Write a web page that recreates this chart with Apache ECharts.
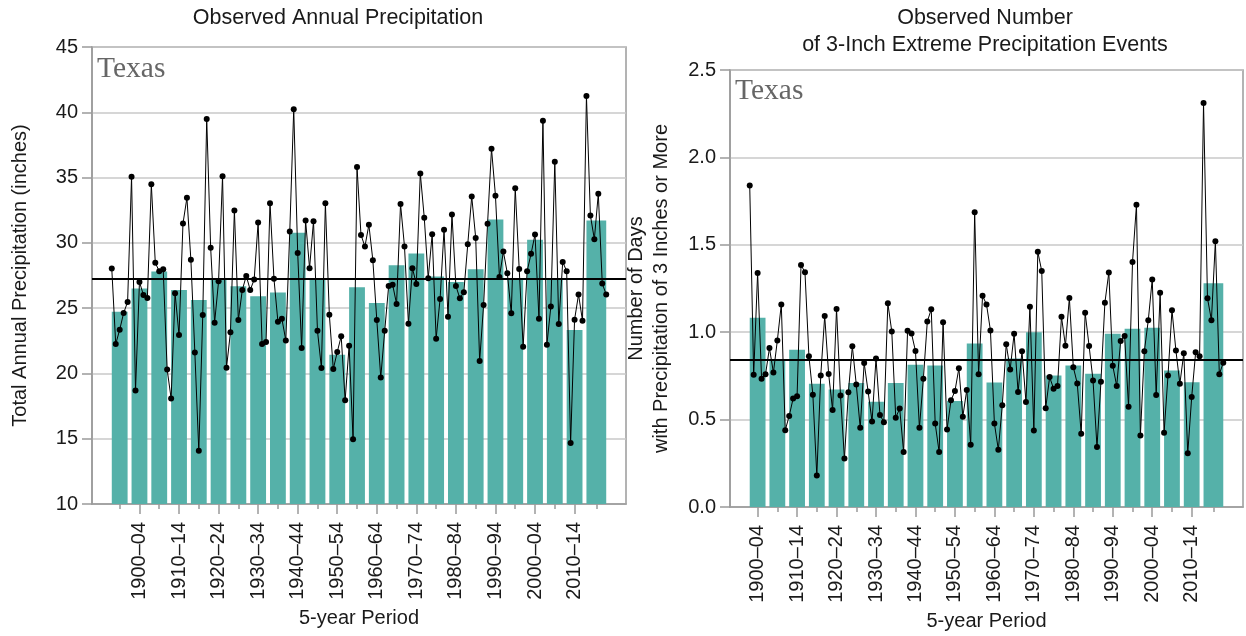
<!DOCTYPE html>
<html>
<head>
<meta charset="utf-8">
<script src="https://cdn.jsdelivr.net/npm/echarts@6/dist/echarts.min.js"></script>
<style>html,body{margin:0;padding:0;background:#fff}#c{width:1246px;height:636px}</style>
</head>
<body>
<div id="c"></div>
<script>
// ---------- DATA ----------
// Left: annual precipitation (inches), Texas, 1895-2020
const precipFirstYear = 1895;
const precipAnnual = [
  28.03, 22.25, 23.35, 24.63, 25.47,
  35.06, 18.70, 27.01, 26.01, 25.78,
  34.48, 28.47, 27.83, 27.97, 20.31,
  18.08, 26.14, 22.94, 31.48, 33.45,
  28.70, 21.61, 14.07, 24.48, 39.49,
  29.62, 23.89, 27.06, 35.11, 20.43,
  23.15, 32.48, 24.09, 26.39, 27.47,
  26.39, 27.19, 31.56, 22.25, 22.40,
  33.04, 27.26, 23.96, 24.19, 22.53,
  30.87, 40.23, 29.23, 21.94, 31.71,
  28.06, 31.66, 23.27, 20.41, 33.04,
  24.50, 20.33, 21.64, 22.84, 17.95,
  22.12, 14.96, 35.81, 30.61, 29.72,
  31.38, 28.67, 24.09, 19.69, 23.27,
  26.70, 26.80, 25.32, 32.97, 29.72,
  23.81, 28.06, 26.85, 35.32, 31.92,
  27.29, 30.66, 22.66, 25.70, 31.00,
  24.35, 32.17, 26.70, 25.75, 26.21,
  29.90, 33.55, 30.38, 20.95, 25.24,
  31.46, 37.21, 33.61, 27.39, 29.33,
  27.67, 24.60, 34.19, 28.00, 22.05,
  27.83, 29.16, 30.64, 24.19, 39.36,
  22.20, 25.12, 36.21, 23.79, 28.54,
  27.83, 14.68, 24.12, 26.04, 24.04,
  41.25, 32.10, 30.28, 33.76, 26.88, 26.04
];
// 5-year period bars (left)
const precipPeriodStart = [1895,1900,1905,1910,1915,1920,1925,1930,1935,1940,1945,1950,1955,1960,1965,1970,1975,1980,1985,1990,1995,2000,2005,2010,2015];
const precipPeriodEnd   = [1899,1904,1909,1914,1919,1924,1929,1934,1939,1944,1949,1954,1959,1964,1969,1974,1979,1984,1989,1994,1999,2004,2009,2014,2020];
const precipPeriodValue = [24.73,26.50,27.80,26.39,25.63,27.21,26.68,25.91,26.19,30.77,27.25,21.43,26.60,25.40,28.29,29.18,27.42,27.00,27.98,31.79,27.30,30.23,27.17,23.32,31.71];
const precipAverage = 27.22;

// Right: number of days with >= 3 inches, 1900-2020
const eventsFirstYear = 1900;
const eventsAnnual = [
  1.839, 0.756, 1.339, 0.733, 0.759,
  0.909, 0.769, 0.953, 1.159, 0.439,
  0.521, 0.621, 0.634, 1.384, 1.343,
  0.862, 0.642, 0.180, 0.752, 1.093,
  0.761, 0.555, 1.133, 0.638, 0.277,
  0.657, 0.919, 0.701, 0.453, 0.824,
  0.661, 0.489, 0.850, 0.527, 0.485,
  1.165, 1.004, 0.511, 0.563, 0.314,
  1.008, 0.992, 0.892, 0.453, 0.733,
  1.061, 1.131, 0.477, 0.314, 1.057,
  0.443, 0.610, 0.663, 0.794, 0.517,
  0.670, 0.356, 1.686, 0.759, 1.208,
  1.159, 1.010, 0.478, 0.328, 0.582,
  0.931, 0.787, 0.991, 0.658, 0.891,
  0.601, 1.145, 0.438, 1.460, 1.350,
  0.565, 0.743, 0.677, 0.692, 1.088,
  0.923, 1.196, 0.800, 0.707, 0.419,
  1.111, 0.921, 0.724, 0.343, 0.717,
  1.168, 1.342, 0.808, 0.692, 0.950,
  0.978, 0.574, 1.401, 1.729, 0.409,
  0.891, 1.069, 1.302, 0.641, 1.225,
  0.425, 0.753, 1.126, 0.895, 0.705,
  0.880, 0.307, 0.629, 0.885, 0.863,
  2.311, 1.194, 1.069, 1.520, 0.760, 0.825
];
const eventsPeriodStart = [1900,1905,1910,1915,1920,1925,1930,1935,1940,1945,1950,1955,1960,1965,1970,1975,1980,1985,1990,1995,2000,2005,2010,2015];
const eventsPeriodEnd   = [1904,1909,1914,1919,1924,1929,1934,1939,1944,1949,1954,1959,1964,1969,1974,1979,1984,1989,1994,1999,2004,2009,2014,2020];
const eventsPeriodValue = [1.083,0.846,0.900,0.705,0.672,0.710,0.602,0.710,0.814,0.809,0.606,0.936,0.712,0.850,1.000,0.753,0.810,0.762,0.991,1.020,1.026,0.781,0.713,1.280];
const eventsAverage = 0.839;

// Tick labels (labeled periods)
const labeledPeriodStart = [1900,1910,1920,1930,1940,1950,1960,1970,1980,1990,2000,2010];
const labeledPeriodText  = ["1900–04","1910–14","1920–24","1930–34","1940–44","1950–54","1960–64","1970–74","1980–84","1990–94","2000–04","2010–14"];

// ---------- BUILD ----------
const BAR = '#55b1a9';
const FONT = 'Liberation Sans';
const TXT = '#1a1a1a';
const AX = '#9a9a9a';

function centers(starts, ends) { return starts.map((s, i) => (s + ends[i]) / 2); }
function annualPairs(first, vals) { return vals.map((v, i) => [first + i, v]); }
function barData(starts, ends, vals) { return vals.map((v, i) => [starts[i], ends[i], v]); }

const labeledCenters = labeledPeriodStart.map(s => s + 2);
function labelFor(v) {
  const i = labeledCenters.findIndex(c => Math.abs(c - v) < 0.01);
  return i >= 0 ? labeledPeriodText[i] : '';
}

function makeBarRender(yMin) {
  return function (params, api) {
    const p0 = api.coord([api.value(0), api.value(2)]);
    const p1 = api.coord([api.value(1), yMin]);
    return {
      type: 'rect',
      shape: { x: p0[0], y: p0[1], width: p1[0] - p0[0], height: p1[1] - p0[1] },
      style: { fill: BAR }
    };
  };
}

function xAxesFor(gridIndex, min, max, allCenters) {
  const minorTicks = allCenters.filter(c => !labeledCenters.some(l => Math.abs(l - c) < 0.01));
  return [
    {
      type: 'value', gridIndex, min, max, position: 'bottom',
      axisLine: { show: true, lineStyle: { color: AX, width: 1.5 } },
      axisTick: { show: true, customValues: minorTicks, length: 5, lineStyle: { color: AX, width: 1.5 } },
      axisLabel: { show: false },
      splitLine: { show: false }
    },
    {
      type: 'value', gridIndex, min, max, position: 'bottom', offset: 0,
      axisLine: { show: false },
      axisTick: { show: true, customValues: labeledCenters, length: 10, lineStyle: { color: AX, width: 1.5 } },
      axisLabel: {
        show: true, customValues: labeledCenters, rotate: 90, margin: 18,
        formatter: labelFor, color: TXT, fontSize: 20, fontFamily: FONT
      },
      splitLine: { show: false },
      name: '5-year Period', nameLocation: 'middle', nameGap: 104,
      nameTextStyle: { color: TXT, fontSize: 20, fontFamily: FONT }
    }
  ];
}

const option = {
  animation: false,
  backgroundColor: '#fff',
  title: [
    { text: 'Observed Annual Precipitation', left: 338, top: 7, textAlign: 'center', padding: 0,
      textStyle: { fontSize: 21.5, fontWeight: 'normal', color: TXT, fontFamily: FONT } },
    { text: 'Observed Number\nof 3-Inch Extreme Precipitation Events', left: 985, top: 5, textAlign: 'center', padding: 0,
      textStyle: { fontSize: 21.5, fontWeight: 'normal', color: TXT, fontFamily: FONT, lineHeight: 27 } },
    { text: 'Texas', left: 97, top: 54, padding: 0,
      textStyle: { fontSize: 29.5, fontWeight: 'normal', color: '#666', fontFamily: 'Liberation Serif' } },
    { text: 'Texas', left: 735, top: 76, padding: 0,
      textStyle: { fontSize: 29.5, fontWeight: 'normal', color: '#666', fontFamily: 'Liberation Serif' } }
  ],
  grid: [
    { left: 92, top: 47, width: 534, height: 457, show: true, borderColor: AX, borderWidth: 1.5, backgroundColor: 'transparent' },
    { left: 730, top: 70, width: 513, height: 440, show: true, borderColor: AX, borderWidth: 1.5, backgroundColor: 'transparent' }
  ],
  xAxis: [
    ...xAxesFor(0, 1890, 2025, centers(precipPeriodStart, precipPeriodEnd)),
    ...xAxesFor(1, 1895, 2025, centers(eventsPeriodStart, eventsPeriodEnd))
  ],
  yAxis: [
    {
      type: 'value', gridIndex: 0, min: 10, max: 45, interval: 5,
      axisLine: { show: true, lineStyle: { color: AX, width: 1.5 } },
      axisTick: { show: true, length: 10, lineStyle: { color: AX, width: 1.5 } },
      axisLabel: { margin: 14, color: TXT, fontSize: 20, fontFamily: FONT },
      splitLine: { show: true, lineStyle: { color: '#c8c8c8', width: 1.5 } },
      name: 'Total Annual Precipitation (inches)', nameLocation: 'middle', nameGap: 62,
      nameTextStyle: { color: TXT, fontSize: 20, fontFamily: FONT }
    },
    {
      type: 'value', gridIndex: 1, min: 0, max: 2.5, interval: 0.5,
      axisLine: { show: true, lineStyle: { color: AX, width: 1.5 } },
      axisTick: { show: true, length: 10, lineStyle: { color: AX, width: 1.5 } },
      axisLabel: { margin: 14, color: TXT, fontSize: 20, fontFamily: FONT, formatter: v => v.toFixed(1) },
      splitLine: { show: true, lineStyle: { color: '#c8c8c8', width: 1.5 } },
      name: 'Number of Days\nwith Precipitation of 3 Inches or More', nameLocation: 'middle', nameGap: 56,
      nameTextStyle: { color: TXT, fontSize: 20, fontFamily: FONT, lineHeight: 25 }
    }
  ],
  series: [
    {
      type: 'custom', xAxisIndex: 0, yAxisIndex: 0, z: 2,
      renderItem: makeBarRender(10),
      encode: { x: [0, 1], y: 2 },
      data: barData(precipPeriodStart, precipPeriodEnd, precipPeriodValue)
    },
    {
      type: 'line', xAxisIndex: 0, yAxisIndex: 0, z: 3,
      data: annualPairs(precipFirstYear, precipAnnual),
      symbol: 'circle', symbolSize: 6, showAllSymbol: true,
      lineStyle: { color: '#000', width: 1 }, itemStyle: { color: '#000' },
      markLine: {
        silent: true, symbol: 'none', label: { show: false },
        lineStyle: { color: '#000', width: 2, type: 'solid' },
        data: [{ yAxis: precipAverage }]
      }
    },
    {
      type: 'custom', xAxisIndex: 2, yAxisIndex: 1, z: 2,
      renderItem: makeBarRender(0),
      encode: { x: [0, 1], y: 2 },
      data: barData(eventsPeriodStart, eventsPeriodEnd, eventsPeriodValue)
    },
    {
      type: 'line', xAxisIndex: 2, yAxisIndex: 1, z: 3,
      data: annualPairs(eventsFirstYear, eventsAnnual),
      symbol: 'circle', symbolSize: 6, showAllSymbol: true,
      lineStyle: { color: '#000', width: 1 }, itemStyle: { color: '#000' },
      markLine: {
        silent: true, symbol: 'none', label: { show: false },
        lineStyle: { color: '#000', width: 2, type: 'solid' },
        data: [{ yAxis: eventsAverage }]
      }
    }
  ]
};

const chart = echarts.init(document.getElementById('c'), null, { renderer: 'canvas' });
chart.setOption(option);
</script>
</body>
</html>
